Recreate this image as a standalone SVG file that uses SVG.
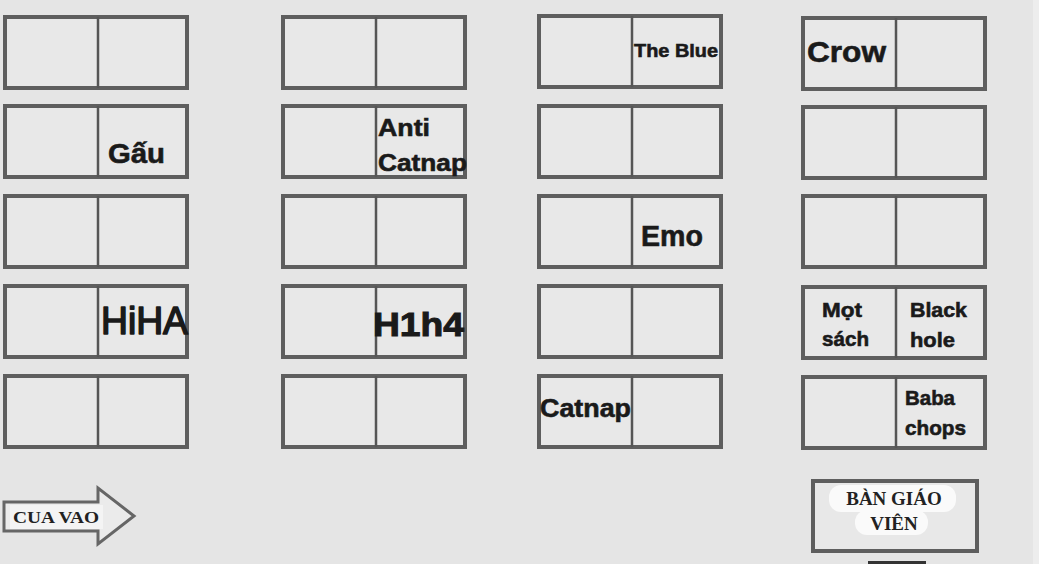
<svg xmlns="http://www.w3.org/2000/svg" width="1039" height="564" viewBox="0 0 1039 564">
<style>
.lbl{font-family:"Liberation Sans",Arial,sans-serif;font-weight:bold;fill:#1a1a1a;stroke:#1a1a1a;stroke-width:0.6}
.ser{font-family:"Liberation Serif","Times New Roman",serif;font-weight:bold;fill:#222}
</style>
<rect width="1039" height="564" fill="#e5e5e5"/>
<rect x="1033" y="0" width="6" height="564" fill="#ededed"/>
<defs>
<g id="d"><rect x="0" y="0" width="182" height="71" fill="#e8e8e8" stroke="#5e5e5e" stroke-width="4"/><line x1="93" y1="0" x2="93" y2="71" stroke="#555" stroke-width="2.5"/></g>
</defs>
<!-- column 1 -->
<g id="c1r1"><use href="#d" x="5" y="17"/></g>
<g id="c1r2"><use href="#d" x="5" y="106"/></g>
<g id="c1r3"><use href="#d" x="5" y="196"/></g>
<g id="c1r4"><use href="#d" x="5" y="286"/></g>
<g id="c1r5"><use href="#d" x="5" y="376"/></g>
<!-- column 2 -->
<g id="c2r1"><use href="#d" x="283" y="17"/></g>
<g id="c2r2"><use href="#d" x="283" y="106"/></g>
<g id="c2r3"><use href="#d" x="283" y="196"/></g>
<g id="c2r4"><use href="#d" x="283" y="286"/></g>
<g id="c2r5"><use href="#d" x="283" y="376"/></g>
<!-- column 3 -->
<g id="c3r1"><use href="#d" x="539" y="16"/></g>
<g id="c3r2"><use href="#d" x="539" y="106"/></g>
<g id="c3r3"><use href="#d" x="539" y="196"/></g>
<g id="c3r4"><use href="#d" x="539" y="286"/></g>
<g id="c3r5"><use href="#d" x="539" y="376"/></g>
<!-- column 4 -->
<g id="c4r1"><use href="#d" x="803" y="18"/></g>
<g id="c4r2"><use href="#d" x="803" y="107"/></g>
<g id="c4r3"><use href="#d" x="803" y="196"/></g>
<g id="c4r4"><use href="#d" x="803" y="287"/></g>
<g id="c4r5"><use href="#d" x="803" y="377"/></g>
<!-- labels -->
<g id="labels">
<text class="lbl" x="634" y="57" font-size="19" textLength="84" lengthAdjust="spacingAndGlyphs">The Blue</text>
<text class="lbl" x="807" y="62" font-size="30" textLength="79" lengthAdjust="spacingAndGlyphs">Crow</text>
<text class="lbl" x="108" y="163" font-size="27" textLength="57" lengthAdjust="spacingAndGlyphs">Gấu</text>
<text class="lbl" x="378" y="136" font-size="24" textLength="52" lengthAdjust="spacingAndGlyphs">Anti</text>
<text class="lbl" x="378" y="171" font-size="24" textLength="89" lengthAdjust="spacingAndGlyphs">Catnap</text>
<text class="lbl" x="641" y="246" font-size="29" textLength="62" lengthAdjust="spacingAndGlyphs">Emo</text>
<text x="101" y="334" font-size="38" textLength="87" lengthAdjust="spacingAndGlyphs" font-family="'Liberation Sans Narrow','Liberation Sans',Arial,sans-serif" fill="#1a1a1a" stroke="#1a1a1a" stroke-width="1.6" stroke-linejoin="round">HiHA</text>
<text class="lbl" x="373" y="336" font-size="33" textLength="91" lengthAdjust="spacingAndGlyphs" style="stroke-width:1">H1h4</text>
<text class="lbl" x="540" y="417" font-size="25" textLength="91" lengthAdjust="spacingAndGlyphs">Catnap</text>
<text class="lbl" x="822" y="317" font-size="21" textLength="40" lengthAdjust="spacingAndGlyphs">Mọt</text>
<text class="lbl" x="822" y="346" font-size="21" textLength="47" lengthAdjust="spacingAndGlyphs">sách</text>
<text class="lbl" x="910" y="317" font-size="21" textLength="57" lengthAdjust="spacingAndGlyphs">Black</text>
<text class="lbl" x="910" y="347" font-size="21" textLength="45" lengthAdjust="spacingAndGlyphs">hole</text>
<text class="lbl" x="905" y="405" font-size="21" textLength="50" lengthAdjust="spacingAndGlyphs">Baba</text>
<text class="lbl" x="905" y="435" font-size="21" textLength="61" lengthAdjust="spacingAndGlyphs">chops</text>
</g>
<!-- entrance arrow -->
<g id="entrance">
<path d="M4 502 H98 V488 L134 516 L98 544 V531 H4 Z" fill="#ebebeb" stroke="#666" stroke-width="3" stroke-linejoin="miter"/>
<rect x="10" y="505" width="93" height="24" fill="#f4f4f4"/>
<text class="ser" x="56" y="523" font-size="16" text-anchor="middle" textLength="86" lengthAdjust="spacingAndGlyphs">CUA VAO</text>
</g>
<!-- teacher desk -->
<g id="teacher">
<rect x="813" y="481" width="164" height="70" fill="#e8e8e8" stroke="#5e5e5e" stroke-width="4"/>
<rect x="829" y="485" width="127" height="27" rx="12" fill="#fafafa"/>
<rect x="855" y="510" width="73" height="25" rx="12" fill="#fafafa"/>
<text class="ser" x="894" y="505" font-size="19" text-anchor="middle">BÀN GIÁO</text>
<text class="ser" x="894" y="530" font-size="19" text-anchor="middle">VIÊN</text>
<rect x="868" y="561" width="58" height="4" fill="#333"/>
</g>
</svg>
